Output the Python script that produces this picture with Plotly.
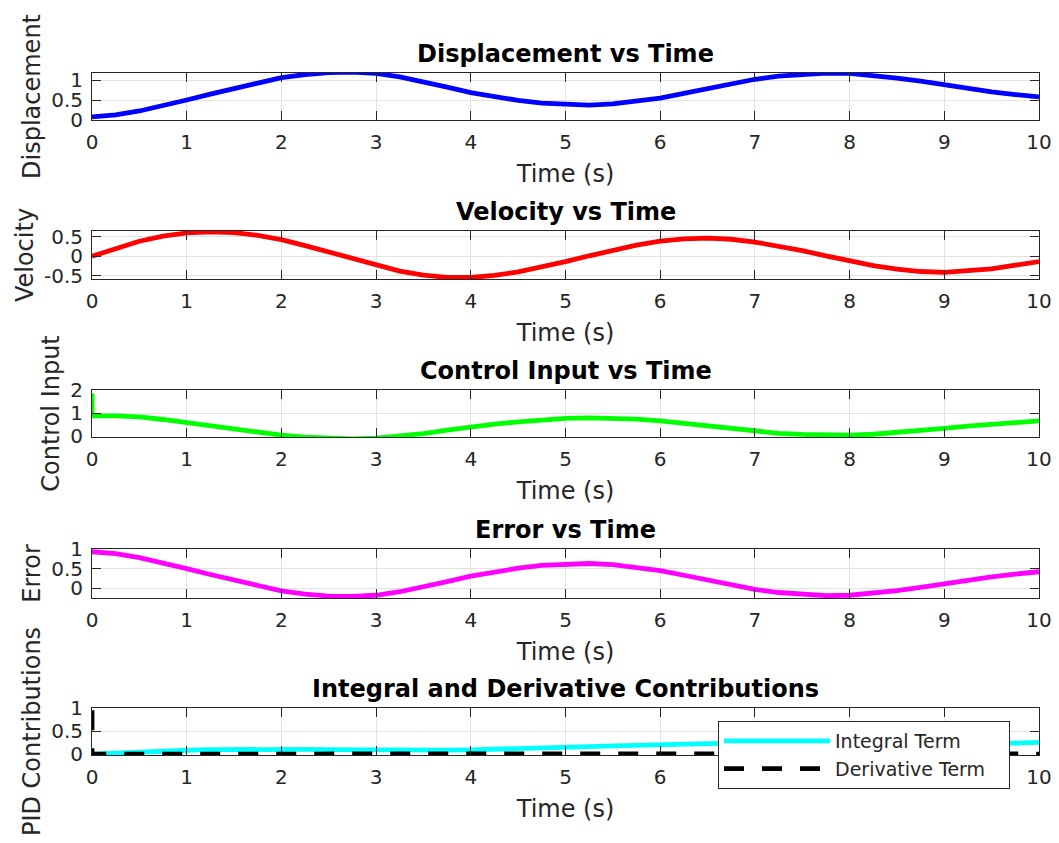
import plotly.graph_objects as go

# ---------------- data ----------------
time = [0.0, 0.25, 0.5, 0.75, 1.0, 1.25, 1.5, 1.75, 2.0, 2.25, 2.5, 2.75, 3.0, 3.25,
        3.5, 3.75, 4.0, 4.25, 4.5, 4.75, 5.0, 5.25, 5.5, 5.75, 6.0, 6.25, 6.5, 6.75,
        7.0, 7.25, 7.5, 7.75, 8.0, 8.25, 8.5, 8.75, 9.0, 9.25, 9.5, 9.75, 10.0]

displacement = [0.07, 0.12, 0.22, 0.35, 0.50, 0.65, 0.80, 0.95, 1.07, 1.15, 1.20, 1.21,
                1.18, 1.09, 0.97, 0.83, 0.69, 0.58, 0.49, 0.42, 0.38, 0.37, 0.40, 0.46,
                0.55, 0.67, 0.80, 0.92, 1.03, 1.11, 1.16, 1.19, 1.18, 1.13, 1.06, 0.98,
                0.88, 0.79, 0.71, 0.64, 0.58]

velocity = [0.00, 0.20, 0.38, 0.51, 0.59, 0.62, 0.60, 0.53, 0.42, 0.27, 0.10, -0.07,
            -0.24, -0.38, -0.48, -0.54, -0.54, -0.49, -0.40, -0.28, -0.14, 0.01, 0.15,
            0.28, 0.38, 0.44, 0.46, 0.43, 0.36, 0.26, 0.14, 0.01, -0.12, -0.24, -0.33,
            -0.39, -0.41, -0.38, -0.32, -0.23, -0.14]

control_spike_time = [0.0]
control_spike = [1.85]
control_input = [0.88, 0.88, 0.83, 0.72, 0.58, 0.45, 0.30, 0.16, 0.04, -0.05, -0.10,
                 -0.12, -0.09, -0.01, 0.11, 0.26, 0.40, 0.52, 0.62, 0.71, 0.77, 0.79,
                 0.78, 0.74, 0.66, 0.55, 0.43, 0.31, 0.20, 0.12, 0.07, 0.03, 0.04, 0.08,
                 0.15, 0.23, 0.33, 0.43, 0.51, 0.59, 0.66]

error = [0.93, 0.88, 0.78, 0.65, 0.50, 0.35, 0.20, 0.05, -0.07, -0.15, -0.20, -0.21,
         -0.18, -0.09, 0.03, 0.17, 0.31, 0.42, 0.51, 0.58, 0.62, 0.63, 0.60, 0.54, 0.45,
         0.33, 0.20, 0.08, -0.03, -0.11, -0.16, -0.19, -0.18, -0.13, -0.06, 0.02, 0.12,
         0.21, 0.29, 0.36, 0.42]

integral_term = [0.000, 0.025, 0.048, 0.067, 0.083, 0.095, 0.102, 0.106, 0.106, 0.103,
                 0.098, 0.092, 0.087, 0.083, 0.082, 0.085, 0.092, 0.102, 0.114, 0.129,
                 0.146, 0.163, 0.180, 0.196, 0.209, 0.220, 0.227, 0.231, 0.232, 0.230,
                 0.226, 0.221, 0.216, 0.212, 0.209, 0.209, 0.211, 0.215, 0.222, 0.236,
                 0.255]

derivative_spike_time = [0.0]
derivative_spike = [0.95]
derivative_term = [0.0, -0.002, -0.004, -0.005, -0.006, -0.006, -0.006, -0.005, -0.004,
                   -0.003, -0.001, 0.001, 0.002, 0.004, 0.005, 0.005, 0.005, 0.005,
                   0.004, 0.003, 0.001, 0.0, -0.002, -0.003, -0.004, -0.004, -0.005,
                   -0.004, -0.004, -0.003, -0.001, 0.0, 0.001, 0.002, 0.003, 0.004,
                   0.004, 0.004, 0.003, 0.002, 0.001]

titles = ["Displacement vs Time", "Velocity vs Time", "Control Input vs Time",
          "Error vs Time", "Integral and Derivative Contributions"]
ylabels = ["Displacement", "Velocity", "Control Input", "Error", "PID Contributions"]
legend_names = ["Integral Term", "Derivative Term"]
xlabel = "Time (s)"
x_ticks = [0, 1, 2, 3, 4, 5, 6, 7, 8, 9, 10]
y_ticks = [[0, 0.5, 1], [-0.5, 0, 0.5], [0, 1, 2], [0, 0.5, 1], [0, 0.5, 1]]
y_ranges = [[-0.01, 1.19], [-0.58, 0.64], [-0.04, 2.0], [-0.25, 1.0], [-0.02, 1.0]]

# ---------------- layout geometry ----------------
W, H = 1059, 843
ML, MR, MT, MB = 92, 20, 73, 88
PH = H - MT - MB
box_px = [(73, 120), (231, 279), (390, 437), (549, 598), (708, 755)]
domains = [[(H - MB - b) / PH, (H - MB - t) / PH] for (t, b) in box_px]

FONT = "DejaVu Sans"
AX = "#262626"
GRID = "#e3e3e3"
PAD = "\u00a0\u00a0\u00a0"

fig = go.Figure()


def xy(i):
    return ("x" if i == 0 else f"x{i+1}"), ("y" if i == 0 else f"y{i+1}")


series = [
    (0, time, displacement, "#0000ff"),
    (1, time, velocity, "#ff0000"),
    (2, control_spike_time + time, control_spike + control_input, "#00ff00"),
    (3, time, error, "#ff00ff"),
]
for i, xs, ys, col in series:
    xa, ya = xy(i)
    fig.add_trace(go.Scatter(x=xs, y=ys, mode="lines", xaxis=xa, yaxis=ya,
                             line=dict(color=col, width=4.8), showlegend=False))

xa, ya = xy(4)
fig.add_trace(go.Scatter(x=time, y=integral_term, mode="lines", xaxis=xa, yaxis=ya,
                         name=legend_names[0] + PAD,
                         line=dict(color="#00ffff", width=4.8)))
fig.add_trace(go.Scatter(x=derivative_spike_time + time,
                         y=derivative_spike + derivative_term, mode="lines",
                         xaxis=xa, yaxis=ya, name=legend_names[1] + PAD,
                         line=dict(color="#000000", width=4.8, dash="20px,18px")))

layout = dict(
    width=W, height=H,
    margin=dict(l=ML, r=MR, t=MT, b=MB),
    paper_bgcolor="white", plot_bgcolor="white",
    font=dict(family=FONT, size=20, color="#262626"),
    showlegend=True,
    legend=dict(x=(718 - ML) / (W - ML - MR), y=(H - MB - 721) / PH,
                xanchor="left", yanchor="top", bgcolor="white",
                bordercolor=AX, borderwidth=1, itemwidth=106,
                font=dict(family=FONT, size=19, color="#262626")),
)
annotations = []
for i in range(5):
    xk = "xaxis" if i == 0 else f"xaxis{i+1}"
    yk = "yaxis" if i == 0 else f"yaxis{i+1}"
    xa, ya = xy(i)
    layout[xk] = dict(domain=[0, 1], anchor=ya, range=[0, 10], tickvals=x_ticks,
                      ticks="inside", ticklen=9, tickwidth=1, tickcolor=AX,
                      showline=True, linecolor=AX, linewidth=1, mirror="ticks",
                      showgrid=True, gridcolor=GRID, zeroline=False,
                      tickfont=dict(size=20, color="#262626"),
                      ticklabelstandoff=4,
                      title=dict(text=xlabel, font=dict(size=24, color="#262626"),
                                 standoff=12),
                      automargin=False)
    layout[yk] = dict(domain=domains[i], anchor=xa, range=y_ranges[i],
                      tickvals=y_ticks[i],
                      ticktext=[("%g" % v) for v in y_ticks[i]],
                      ticks="inside", ticklen=9, tickwidth=1, tickcolor=AX,
                      showline=True, linecolor=AX, linewidth=1, mirror="ticks",
                      showgrid=True, gridcolor=GRID, zeroline=False,
                      tickfont=dict(size=20, color="#262626"),
                      ticklabelstandoff=4,
                      title=dict(text=ylabels[i], font=dict(size=24, color="#262626"),
                                 standoff=3),
                      automargin=False)
    annotations.append(dict(text="<b>%s</b>" % titles[i], xref="paper", yref="paper",
                            x=0.5, y=domains[i][1], xanchor="center", yanchor="bottom",
                            yshift=3, showarrow=False,
                            font=dict(family=FONT, size=24, color="#000000")))
layout["annotations"] = annotations
fig.update_layout(**layout)

fig.write_html("out.html")
